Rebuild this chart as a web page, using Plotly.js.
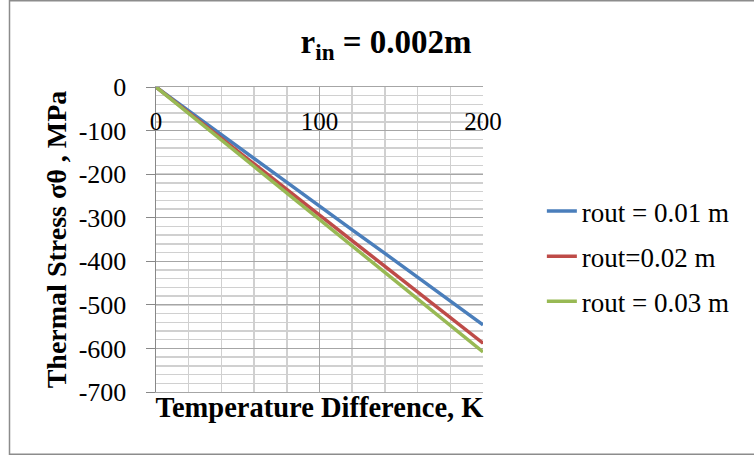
<!DOCTYPE html>
<html>
<head>
<meta charset="utf-8">
<script src="https://cdn.plot.ly/plotly-3.0.1.min.js"></script>
<style>html,body{margin:0;padding:0;background:#fff;}#chart{width:754px;height:459px;}</style>
</head>
<body>
<div id="chart"></div>
<script>
const tempDiff = [0, 20, 40, 60, 80, 100, 120, 140, 160, 180, 200];
const stressOut001 = [0, -55, -109, -164, -218, -273, -328, -382, -437, -491, -546];
const stressOut002 = [0, -59, -118, -176, -235, -294, -353, -412, -470, -529, -588];
const stressOut003 = [0, -61, -122, -182, -243, -304, -365, -426, -486, -547, -608];
const seriesNames = ['rout = 0.01 m', 'rout=0.02 m', 'rout = 0.03 m'];
const seriesColors = ['#4a7ebb', '#be4b48', '#98b954'];
const xTicks = [0, 100, 200];
const yTicks = [0, -100, -200, -300, -400, -500, -600, -700];

const serif = 'Liberation Serif, Times New Roman, serif';
const series = [stressOut001, stressOut002, stressOut003];
const traces = series.map((s, i) => ({
  x: tempDiff, y: s, type: 'scatter', mode: 'lines',
  name: seriesNames[i], legendgroup: 'g' + i,
  line: {color: seriesColors[i], width: 3.5}
}));
// invisible trace for the tick-label axis drawn near the top
traces.push({x: tempDiff, y: stressOut001, xaxis: 'x2', yaxis: 'y', mode: 'lines',
  line: {width: 0, color: 'rgba(0,0,0,0)'}, showlegend: false, hoverinfo: 'skip'});

const layout = {
  width: 754, height: 459,
  margin: {l: 156, r: 271, t: 87, b: 67},
  paper_bgcolor: '#ffffff', plot_bgcolor: '#ffffff',
  font: {family: serif, color: '#000', size: 20},
  showlegend: true,
  title: {
    text: '<b>r<sub>in</sub> = 0.002m</b>',
    font: {family: serif, size: 33, color: '#000'},
    x: 0.512, xref: 'container', xanchor: 'center',
    y: 0.91, yref: 'container', yanchor: 'middle'
  },
  xaxis: {
    range: [0, 200], dtick: 100, tick0: 0,
    showticklabels: false, ticks: '',
    showgrid: true, gridcolor: '#a6a6a6', gridwidth: 1,
    minor: {dtick: 20, showgrid: true, gridcolor: '#d0d0d0', gridwidth: 1.5},
    showline: true, linecolor: '#a6a6a6', linewidth: 1, mirror: true,
    zeroline: false, fixedrange: true,
    title: {text: '<b>Temperature Difference, K</b>', font: {family: serif, size: 28.5, color: '#000'}, standoff: 5}
  },
  xaxis2: {
    overlaying: 'x', anchor: 'free', position: 0.945, side: 'bottom',
    range: [0, 200], tickvals: xTicks, ticktext: xTicks.map(String),
    ticks: '', showgrid: false, showline: false, zeroline: false,
    tickfont: {family: serif, size: 25, color: '#000'}, fixedrange: true
  },
  yaxis: {
    range: [-700, 0], tickvals: yTicks, ticktext: yTicks.map(String),
    ticks: 'outside', ticklen: 9, tickcolor: '#888', tickwidth: 1,
    ticklabelstandoff: 14,
    showgrid: true, gridcolor: '#a6a6a6', gridwidth: 1,
    minor: {dtick: 20, showgrid: true, gridcolor: '#d0d0d0', gridwidth: 1.5},
    showline: true, linecolor: '#888', linewidth: 1.5,
    zeroline: false, fixedrange: true,
    tickfont: {family: serif, size: 26, color: '#000'},
    title: {text: '<b>Thermal Stress σθ , MPa</b>', font: {family: serif, size: 28, color: '#000'}, standoff: 4}
  },
  legend: {
    x: 1.18, xanchor: 'left', y: 0.672, yanchor: 'top',
    font: {family: serif, size: 27, color: '#000'},
    bgcolor: 'rgba(0,0,0,0)', borderwidth: 0,
    traceorder: 'grouped', tracegroupgap: 7, itemwidth: 30
  },
  shapes: [{
    type: 'rect', xref: 'paper', yref: 'paper',
    x0: (9.5 - 156) / 327, x1: (760 - 156) / 327,
    y0: (392 - 454) / 304, y1: (392 - 2) / 304,
    line: {color: '#8c8c8c', width: 1.5}, layer: 'below'
  }]
};

Plotly.newPlot('chart', traces, layout, {displayModeBar: false, staticPlot: true});
</script>
</body>
</html>
